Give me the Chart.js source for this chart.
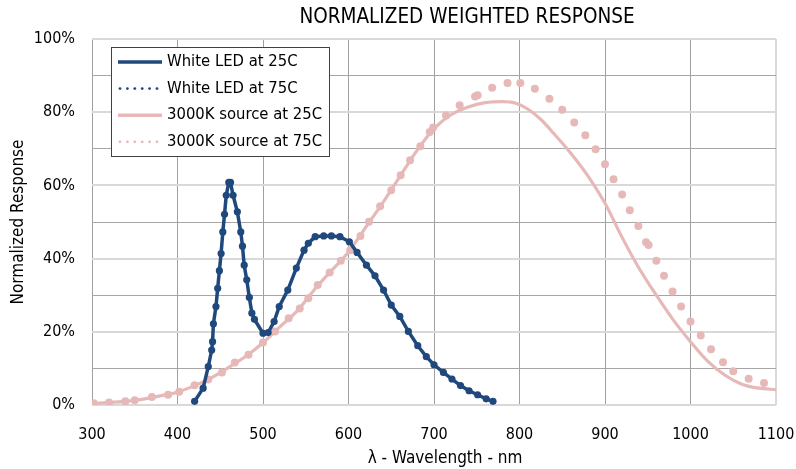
<!DOCTYPE html>
<html>
<head>
<meta charset="utf-8">
<script src="https://cdn.jsdelivr.net/npm/chart.js@4.4.0/dist/chart.umd.min.js"></script>
<style>
html,body{margin:0;padding:0;background:#fff;}
#wrap{width:796px;height:469px;}
</style>
</head>
<body>
<div id="wrap"><canvas id="c" width="796" height="469"></canvas></div>
<script>
// ---------- data ----------
const TITLE = 'NORMALIZED WEIGHTED RESPONSE';
const X_TITLE = 'λ - Wavelength - nm';
const Y_TITLE = 'Normalized Response';
const SERIES_NAMES = ['White LED at 25C', 'White LED at 75C', '3000K source at 25C', '3000K source at 75C'];
const X_MIN = 300, X_MAX = 1100, X_STEP = 100;
const Y_MIN = 0, Y_MAX = 100, Y_STEP = 10, Y_LABEL_STEP = 20;

// White LED (25C and 75C curves coincide)
const ledWl  = [420,430,436,440,441,442,445,447,449,451,453,455,457,460,462,465,470,474,476,478,481,484,487,490,500,506,513,519,529,539,548,553,561,571,580,590,601,610,621,631,641,650,660,670,681,691,700,711,721,731,741,751,761,769];
const ledVal = [1.0,4.6,10.5,15.0,17.3,22.2,26.9,31.9,36.7,41.4,47.3,52.1,57.3,60.8,60.8,57.3,52.8,47.3,43.4,38.2,34.2,29.4,25.1,23.4,19.6,19.8,22.8,26.9,31.4,37.4,42.3,44.2,46.0,46.2,46.2,46.0,44.6,41.7,38.2,35.3,31.4,27.3,24.2,20.1,16.2,13.2,11.0,8.9,7.1,5.3,3.9,2.8,1.7,1.0];

// 3000K source at 25C (solid)
const srcWl25  = [300,320,340,360,380,400,420,440,460,480,500,520,540,560,580,600,620,640,660,680,700,720,740,760,780,795,810,825,840,860,880,900,920,940,960,980,1000,1020,1040,1060,1080,1100];
const srcVal25 = [0.4,0.7,1.0,1.6,2.5,3.5,5.3,7.5,10.3,13.3,17.0,21.4,25.7,31.5,36.7,41.8,48.5,55.2,62.4,69.5,75.5,79.3,81.4,82.6,82.9,82.5,80.8,78.0,74.2,68.8,62.6,55.1,45.8,37.3,30.0,23.2,17.3,12.0,8.2,5.7,4.6,4.2];

// 3000K source at 75C (dotted)
const srcWl75  = [302,320,339,350,370,389,402,420,436,452,467,483,500,514,530,543,553,564,578,591,602,614,624,637,650,661,672,684,695,699,714,730,748,751,768,786,801,818,835,850,864,877,889,900,910,920,929,939,948,951,960,969,979,989,1000,1012,1024,1038,1050,1068,1086];
const srcVal75 = [0.5,0.7,1.0,1.3,2.2,2.8,3.6,5.4,7.0,8.9,11.6,13.7,17.1,20.1,23.7,26.4,29.2,32.8,36.2,39.4,42.3,46.2,50.1,54.3,58.7,62.8,66.9,70.7,74.6,75.8,79.1,81.9,84.3,84.6,86.7,88.0,88.0,86.4,83.7,80.7,77.2,73.7,69.9,65.8,61.7,57.5,53.2,48.9,44.5,43.7,39.4,35.3,31.0,26.9,22.8,19.0,15.2,11.7,9.2,7.2,6.0];

// ---------- styles ----------
const BLUE = '#1F497D';
const PINK = '#E6B9B8';
const FONT = '"DejaVu Sans Condensed", "DejaVu Sans", sans-serif';

const pairs = (xs, ys) => xs.map((x, i) => ({x: x, y: ys[i]}));

const decor = {
  id: 'decor',
  afterDraw(chart) {
    const ctx = chart.ctx, a = chart.chartArea;
    ctx.save();
    ctx.fillStyle = '#000';
    ctx.textAlign = 'center';
    ctx.textBaseline = 'middle';
    ctx.font = '20.5px ' + FONT;
    ctx.fillText(TITLE, a.left + 375, 18);
    ctx.font = '17px ' + FONT;
    ctx.fillText(X_TITLE, a.left + 353, 459);

    // legend box
    const lx = a.left + 19, ly = a.top + 8, lw = 218, lh = 109;
    ctx.fillStyle = '#fff';
    ctx.fillRect(lx, ly, lw, lh);
    ctx.strokeStyle = '#404040';
    ctx.lineWidth = 1;
    ctx.strokeRect(lx + 0.5, ly + 0.5, lw, lh);
    chart.data.datasets.forEach((ds, i) => {
      const y = ly + 15 + i * 26.6;
      const col = ds.legendColor;
      if (ds.legendDotted) {
        ctx.fillStyle = col;
        for (let k = 0; k < 6; k++) {
          ctx.beginPath();
          ctx.arc(lx + 9 + k * 7.4, y, 1.4, 0, Math.PI * 2);
          ctx.fill();
        }
      } else {
        ctx.strokeStyle = col;
        ctx.lineWidth = 3.5;
        ctx.beginPath();
        ctx.moveTo(lx + 7, y);
        ctx.lineTo(lx + 51, y);
        ctx.stroke();
      }
      ctx.fillStyle = '#000';
      ctx.textAlign = 'left';
      ctx.font = '16.5px ' + FONT;
      ctx.fillText(ds.label, lx + 56, y);
    });
    ctx.restore();
  }
};

new Chart(document.getElementById('c'), {
  type: 'scatter',
  data: {
    datasets: [
      { label: SERIES_NAMES[0], data: pairs(ledWl, ledVal), showLine: true, borderColor: BLUE, borderWidth: 3.5,
        pointRadius: 0, tension: 0, legendColor: BLUE, legendDotted: false },
      { label: SERIES_NAMES[1], data: pairs(ledWl, ledVal), showLine: false, pointRadius: 3.6,
        pointBackgroundColor: BLUE, pointBorderWidth: 0, borderColor: BLUE, legendColor: BLUE, legendDotted: true },
      { label: SERIES_NAMES[2], data: pairs(srcWl25, srcVal25), showLine: true, borderColor: PINK, borderWidth: 3.2,
        pointRadius: 0, cubicInterpolationMode: 'monotone', legendColor: PINK, legendDotted: false },
      { label: SERIES_NAMES[3], data: pairs(srcWl75, srcVal75), showLine: false, pointRadius: 4,
        pointBackgroundColor: PINK, pointBorderWidth: 0, borderColor: PINK, legendColor: PINK, legendDotted: true }
    ]
  },
  options: {
    responsive: false,
    animation: false,
    devicePixelRatio: 1,
    layout: { padding: { top: 39, right: 20, left: 0, bottom: 0 } },
    plugins: { legend: { display: false }, tooltip: { enabled: false }, title: { display: false } },
    scales: {
      x: {
        type: 'linear', min: X_MIN, max: X_MAX,
        afterFit: s => { s.height = 64; s.paddingLeft = 0; s.paddingRight = 0; },
        ticks: { stepSize: X_STEP, color: '#000', font: { family: FONT, size: 16 }, padding: 20, maxRotation: 0,
          callback: v => String(v) },
        grid: { drawTicks: false,
          color: c => (c.tick && c.tick.value === X_MAX) ? '#d9d9d9' : '#a0a0a0',
          lineWidth: c => (c.tick && c.tick.value === X_MAX) ? 2 : 1 },
        border: { display: false }
      },
      y: {
        type: 'linear', min: Y_MIN, max: Y_MAX,
        afterFit: s => { s.width = 92; s.paddingTop = 0; s.paddingBottom = 0; },
        ticks: { stepSize: Y_STEP, autoSkip: false, color: '#000', font: { family: FONT, size: 16 }, padding: 17,
          callback: v => (v % Y_LABEL_STEP === 0 ? v + '%' : '') },
        grid: { drawTicks: false,
          color: c => (c.tick && c.tick.value % Y_LABEL_STEP === 0) ? '#d9d9d9' : '#a6a6a6',
          lineWidth: c => (c.tick && c.tick.value % Y_LABEL_STEP === 0) ? 2 : 1 },
        border: { display: false },
        title: { display: true, text: Y_TITLE, color: '#000', font: { family: FONT, size: 17 }, padding: { top: 8, bottom: 0 } }
      }
    }
  },
  plugins: [decor]
});
</script>
</body>
</html>
